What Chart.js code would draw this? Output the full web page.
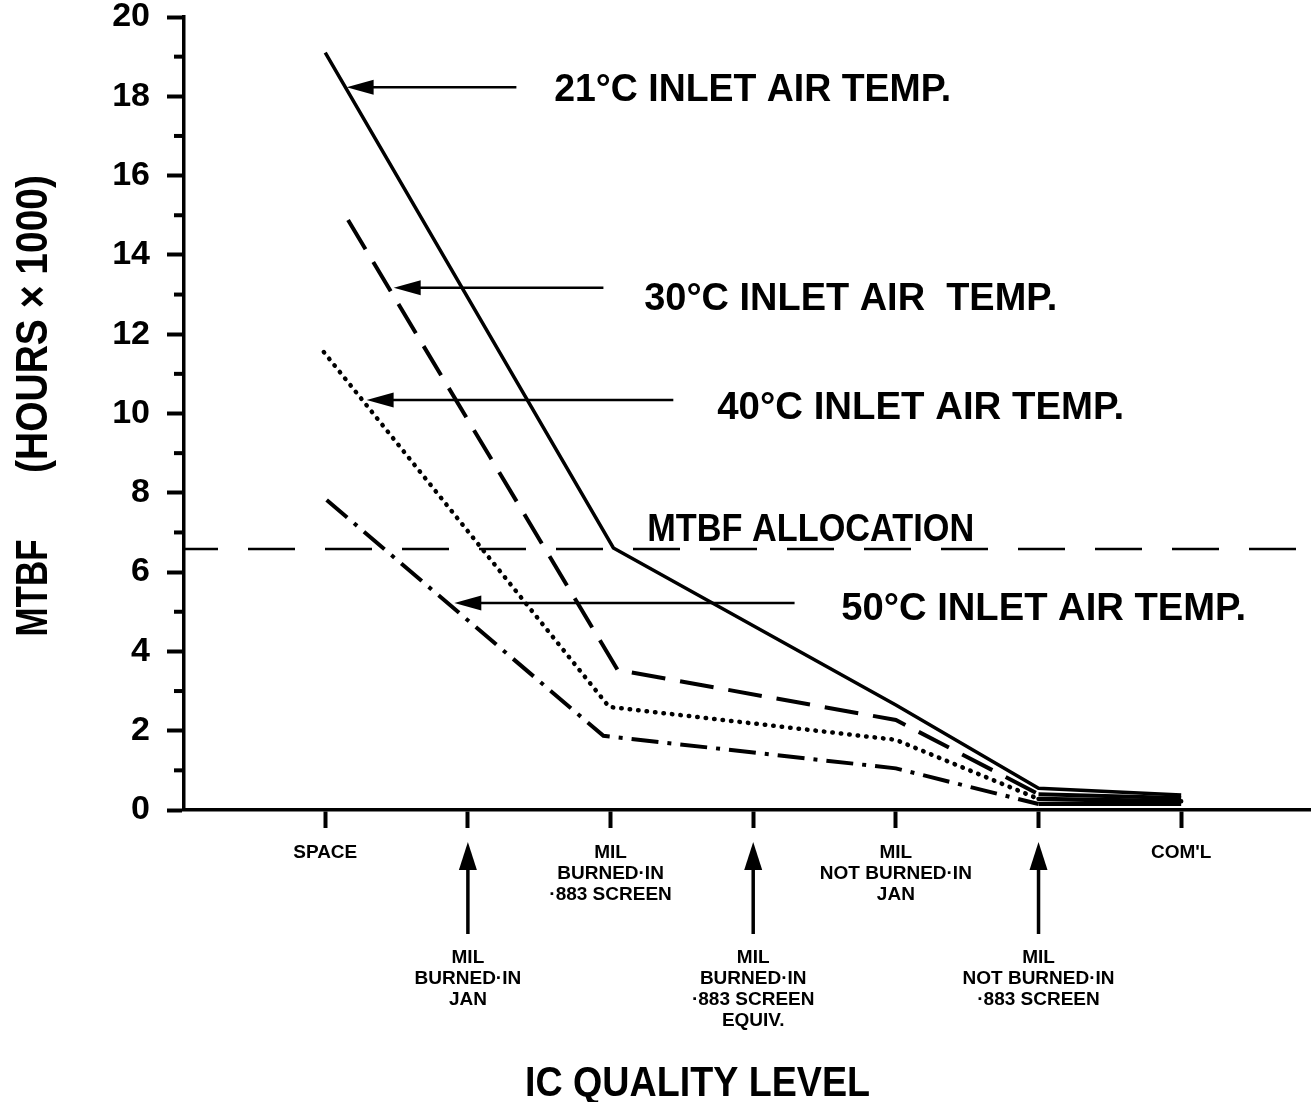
<!DOCTYPE html>
<html>
<head>
<meta charset="utf-8">
<script src="https://cdn.jsdelivr.net/npm/chart.js@4.4.1/dist/chart.umd.min.js"></script>
<style>
    html, body { margin: 0; padding: 0; background: #fff; }
    #chart-wrap { width: 1311px; height: 1102px; }
</style>
</head>
<body>
<div id="chart-wrap"><canvas id="mtbf-chart" width="1311" height="1102"></canvas></div>
<script>
const FONT = "'Liberation Sans', Arial, Helvetica, sans-serif";

// IC quality levels along the x axis (index = position on the axis)
const categories = [
    ['SPACE'],
    ['MIL', 'BURNED·IN', 'JAN'],
    ['MIL', 'BURNED·IN', '·883 SCREEN'],
    ['MIL', 'BURNED·IN', '·883 SCREEN', 'EQUIV.'],
    ['MIL', 'NOT BURNED·IN', 'JAN'],
    ['MIL', 'NOT BURNED·IN', '·883 SCREEN'],
    ["COM'L"]
];
// levels that sit between the others and get an arrow pointing up
const pointerCategories = [1, 3, 5];

// MTBF (hours x 1000) per inlet air temperature
const temp21X = [0, 2.02, 4, 5, 6];
const temp21Y = [19.1, 6.61, 2.65, 0.55, 0.38];
const temp30X = [0.16, 2.05, 4, 5, 6];
const temp30Y = [14.88, 3.53, 2.27, 0.4, 0.3];
const temp40X = [-0.01, 1.99, 4, 5, 6];
const temp40Y = [11.55, 2.6, 1.77, 0.28, 0.22];
const temp50X = [0.01, 1.95, 4, 5, 6];
const temp50Y = [7.82, 1.87, 1.05, 0.15, 0.15];

const allocationX = [-0.99, 6.91];
const allocationLevel = 6.58;

const yMax = 20;

const calloutTexts = ['21°C INLET AIR TEMP.', '30°C INLET AIR  TEMP.', '40°C INLET AIR TEMP.', '50°C INLET AIR TEMP.'];
const allocationText = 'MTBF ALLOCATION';
const yTitleParts = ['MTBF', '(HOURS × 1000)'];
const xTitle = 'IC QUALITY LEVEL';

// where the callout arrows and texts sit (axis units)
const callouts = [
    { text: calloutTexts[0], level: 18.23, tip: 0.15, tail: 1.34, textX: 1.605, textLevel: 18.23, width: 397 },
    { text: calloutTexts[1], level: 13.17, tip: 0.48, tail: 1.95, textX: 2.236, textLevel: 12.96, width: 413 },
    { text: calloutTexts[2], level: 10.34, tip: 0.29, tail: 2.44, textX: 2.748, textLevel: 10.21, width: 407 },
    { text: calloutTexts[3], level: 5.22, tip: 0.905, tail: 3.29, textX: 3.617, textLevel: 5.14, width: 405 }
];

const toPoints = (xs, ys) => xs.map((x, i) => ({ x: x, y: ys[i] }));

// the stretch out to COM'L is drawn as one solid black band in the original
const solidTail = { borderDash: (c) => (c.p0DataIndex >= 3 ? [] : undefined) };

const lineStyle = (dash, width, cap) => ({
    borderColor: '#000',
    borderWidth: width,
    borderDash: dash,
    borderCapStyle: cap || 'butt',
    pointRadius: 0,
    tension: 0,
    fill: false
});

// text squeezed/stretched to a given width (the original lettering is condensed)
const drawFitted = (ctx, text, x, y, width, size, vertical) => {
    ctx.save();
    ctx.font = 'bold ' + size + 'px ' + FONT;
    const scale = width / ctx.measureText(text).width;
    ctx.translate(x, y);
    if (vertical) ctx.rotate(-Math.PI / 2);
    ctx.scale(scale, 1);
    ctx.textAlign = vertical ? 'center' : 'left';
    ctx.textBaseline = 'alphabetic';
    ctx.fillStyle = '#000';
    ctx.fillText(text, 0, 0);
    ctx.restore();
};

const annotationPlugin = {
    id: 'mtbfAnnotations',
    afterDraw(chart) {
        const ctx = chart.ctx;
        const xs = chart.scales.x;
        const ys = chart.scales.y;
        const area = chart.chartArea;
        ctx.save();
        ctx.strokeStyle = '#000';
        ctx.fillStyle = '#000';

        // minor ticks on the y axis
        ctx.lineWidth = 4;
        for (let v = 1; v < yMax; v += 2) {
            const py = ys.getPixelForValue(v);
            ctx.beginPath();
            ctx.moveTo(area.left - 10, py);
            ctx.lineTo(area.left, py);
            ctx.stroke();
        }

        // up arrows under the in-between quality levels
        pointerCategories.forEach((i) => {
            const px = xs.getPixelForValue(i);
            const tipY = area.bottom + 32;
            ctx.lineWidth = 3.5;
            ctx.beginPath();
            ctx.moveTo(px, area.bottom + 124);
            ctx.lineTo(px, tipY + 20);
            ctx.stroke();
            ctx.beginPath();
            ctx.moveTo(px, tipY);
            ctx.lineTo(px - 9, tipY + 28);
            ctx.lineTo(px + 9, tipY + 28);
            ctx.closePath();
            ctx.fill();
        });

        // callout arrows and their texts
        callouts.forEach((c) => {
            const py = ys.getPixelForValue(c.level);
            const tip = xs.getPixelForValue(c.tip);
            const tail = xs.getPixelForValue(c.tail);
            ctx.lineWidth = 2.5;
            ctx.beginPath();
            ctx.moveTo(tail, py);
            ctx.lineTo(tip + 20, py);
            ctx.stroke();
            ctx.beginPath();
            ctx.moveTo(tip, py);
            ctx.lineTo(tip + 27, py - 7.5);
            ctx.lineTo(tip + 27, py + 7.5);
            ctx.closePath();
            ctx.fill();
            drawFitted(ctx, c.text, xs.getPixelForValue(c.textX), ys.getPixelForValue(c.textLevel) + 14, c.width, 39, false);
        });

        drawFitted(ctx, allocationText, xs.getPixelForValue(2.257), ys.getPixelForValue(7.14) + 14, 327, 39, false);

        // axis titles
        drawFitted(ctx, yTitleParts[0], 47, 588, 97, 44, true);
        drawFitted(ctx, yTitleParts[1], 47, 324, 298, 44, true);
        drawFitted(ctx, xTitle, 525, 1096, 345, 42, false);

        ctx.restore();
    }
};

new Chart(document.getElementById('mtbf-chart'), {
    type: 'line',
    data: {
        datasets: [
            Object.assign({ label: '21°C', data: toPoints(temp21X, temp21Y) }, lineStyle([], 3.5)),
            Object.assign({ label: '30°C', data: toPoints(temp30X, temp30Y), segment: solidTail }, lineStyle([34, 15], 4)),
            Object.assign({ label: '40°C', data: toPoints(temp40X, temp40Y), segment: solidTail }, lineStyle([0.5, 8], 4.5, 'round')),
            Object.assign({ label: '50°C', data: toPoints(temp50X, temp50Y), segment: solidTail }, lineStyle([27, 9, 4, 9], 4)),
            Object.assign({ label: 'MTBF allocation', data: toPoints(allocationX, [allocationLevel, allocationLevel]) }, lineStyle([47, 30], 2.5), { borderDashOffset: 13 })
        ]
    },
    options: {
        responsive: false,
        animation: false,
        devicePixelRatio: 1,
        layout: { padding: { top: 17, left: 0, right: 0, bottom: 0 } },
        plugins: {
            legend: { display: false },
            tooltip: { enabled: false }
        },
        scales: {
            x: {
                type: 'linear',
                min: -0.99,
                max: 6.91,
                afterBuildTicks: (scale) => {
                    scale.ticks = categories.map((c, i) => ({ value: i }));
                },
                afterFit: (scale) => {
                    scale.height = 292;
                    scale.paddingLeft = 0;
                    scale.paddingRight = 0;
                },
                ticks: {
                    autoSkip: false,
                    maxRotation: 0,
                    minRotation: 0,
                    padding: 14,
                    color: '#000',
                    font: { family: FONT, size: 19, weight: 'bold', lineHeight: '21px' },
                    callback: (value) => {
                        const i = Math.round(value);
                        const lines = categories[i] || [''];
                        return pointerCategories.includes(i) ? ['', '', '', '', ''].concat(lines) : lines;
                    }
                },
                grid: { drawOnChartArea: false, drawTicks: true, tickLength: 18, tickWidth: 4, tickColor: '#000' },
                border: { color: '#000', width: 3.5 }
            },
            y: {
                min: 0,
                max: yMax,
                afterFit: (scale) => {
                    scale.width = 184;
                    scale.paddingTop = 0;
                    scale.paddingBottom = 0;
                },
                ticks: {
                    stepSize: 1,
                    autoSkip: false,
                    padding: 17,
                    color: '#000',
                    font: { family: FONT, size: 34, weight: 'bold' },
                    callback: (v) => (v % 2 === 0 ? String(v) : '')
                },
                grid: {
                    drawOnChartArea: false,
                    drawTicks: true,
                    tickLength: 17,
                    tickWidth: 4,
                    tickColor: (c) => (c.tick && c.tick.value % 2 === 0 ? '#000' : 'rgba(0,0,0,0)')
                },
                border: { color: '#000', width: 3.5 }
            }
        }
    },
    plugins: [annotationPlugin]
});
</script>
</body>
</html>
